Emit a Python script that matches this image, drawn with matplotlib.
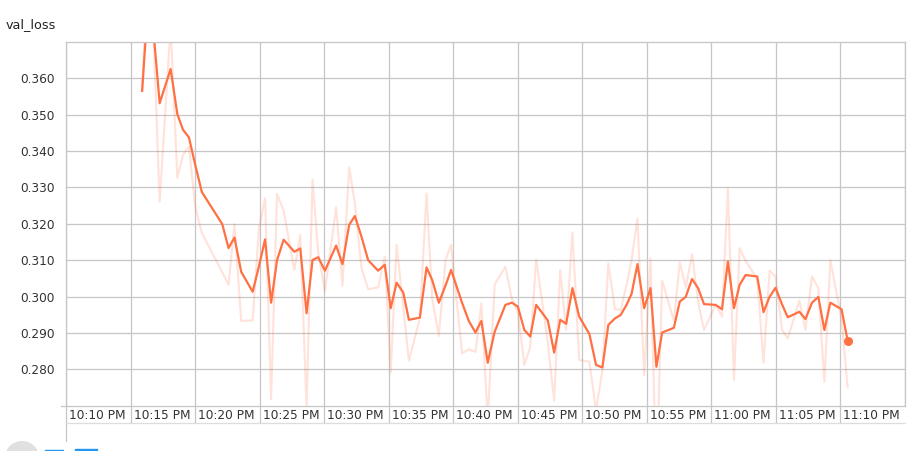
import matplotlib
matplotlib.use("Agg")
import matplotlib.pyplot as plt
from matplotlib.patches import Ellipse, Rectangle
from matplotlib.transforms import blended_transform_factory

title = "val_loss"

# minutes after 10:10 PM
minutes = [5.90, 6.46, 7.26, 8.11, 8.63, 9.07, 9.53, 10.02, 10.53, 12.11,
           12.60, 13.06, 13.58, 14.47, 14.95, 15.43, 15.90, 16.36, 16.87, 17.70,
           18.16, 18.65, 19.11, 19.55, 20.07, 20.94, 21.43, 21.95, 22.39, 22.90,
           23.42, 24.19, 24.71, 25.17, 25.63, 26.14, 26.58, 27.43, 27.95, 28.39,
           28.90, 29.42, 29.85, 30.70, 31.22, 31.74, 32.20, 32.69, 33.23, 34.06,
           34.57, 35.03, 35.53, 35.99, 36.45, 37.35, 37.84, 38.31, 38.77, 39.26,
           39.78, 40.57, 41.09, 41.58, 42.04, 42.56, 42.99, 43.45, 43.84, 44.30,
           44.82, 45.31, 45.77, 46.21, 47.12, 47.58, 48.04, 48.53, 49.00, 49.46,
           50.36, 50.85, 51.31, 51.78, 52.22, 52.68, 53.58, 54.07, 54.54, 55.00,
           55.51, 55.95, 56.85, 57.32, 57.83, 58.32, 58.79, 59.25, 60.12, 60.59]

raw_loss = [0.3565, 0.4030, 0.3260, 0.3745, 0.3326, 0.3389, 0.3412, 0.3247, 0.3174, 0.3067,
            0.3032, 0.3199, 0.2933, 0.2934, 0.3185, 0.3270, 0.2718, 0.3282, 0.3236, 0.3073,
            0.3169, 0.2695, 0.3320, 0.3120, 0.3015, 0.3245, 0.3030, 0.3355, 0.3257, 0.3080,
            0.3020, 0.3025, 0.3110, 0.2791, 0.3142, 0.2971, 0.2824, 0.2940, 0.3283, 0.2993,
            0.2892, 0.3100, 0.3142, 0.2844, 0.2855, 0.2848, 0.2981, 0.2660, 0.3033, 0.3082,
            0.2992, 0.2955, 0.2812, 0.2862, 0.3102, 0.2873, 0.2714, 0.3073, 0.2908, 0.3176,
            0.2826, 0.2821, 0.2688, 0.2797, 0.3091, 0.2965, 0.2963, 0.3030, 0.3100, 0.3215,
            0.2784, 0.3105, 0.2483, 0.3044, 0.2933, 0.3093, 0.3025, 0.3116, 0.2986, 0.2908,
            0.2977, 0.2945, 0.3296, 0.2771, 0.3133, 0.3098, 0.3049, 0.2818, 0.3071, 0.3055,
            0.2908, 0.2885, 0.2989, 0.2908, 0.3055, 0.3023, 0.2766, 0.3100, 0.2937, 0.2750]

smoothed_loss = [0.3565, 0.3860, 0.3531, 0.3625, 0.3501, 0.3458, 0.3437, 0.3361, 0.3287, 0.3199,
                 0.3133, 0.3162, 0.3068, 0.3013, 0.3082, 0.3157, 0.2983, 0.3100, 0.3156, 0.3123,
                 0.3132, 0.2954, 0.3100, 0.3108, 0.3071, 0.3140, 0.3089, 0.3197, 0.3221, 0.3165,
                 0.3100, 0.3071, 0.3087, 0.2968, 0.3038, 0.3011, 0.2936, 0.2942, 0.3080, 0.3045,
                 0.2983, 0.3030, 0.3073, 0.2983, 0.2933, 0.2901, 0.2933, 0.2818, 0.2903, 0.2977,
                 0.2983, 0.2972, 0.2908, 0.2890, 0.2977, 0.2934, 0.2846, 0.2936, 0.2925, 0.3023,
                 0.2945, 0.2897, 0.2812, 0.2805, 0.2922, 0.2940, 0.2949, 0.2977, 0.3007, 0.3089,
                 0.2968, 0.3023, 0.2807, 0.2901, 0.2914, 0.2986, 0.2999, 0.3048, 0.3023, 0.2979,
                 0.2977, 0.2965, 0.3096, 0.2968, 0.3032, 0.3059, 0.3055, 0.2957, 0.2999, 0.3024,
                 0.2978, 0.2943, 0.2958, 0.2938, 0.2983, 0.2999, 0.2908, 0.2983, 0.2965, 0.2879]

y_ticks = [0.28, 0.29, 0.30, 0.31, 0.32, 0.33, 0.34, 0.35, 0.36]
y_tick_labels = ["0.280", "0.290", "0.300", "0.310", "0.320", "0.330", "0.340", "0.350", "0.360"]

x_tick_minutes = [0, 5, 10, 15, 20, 25, 30, 35, 40, 45, 50, 55, 60]
x_tick_labels = ["10:10 PM", "10:15 PM", "10:20 PM", "10:25 PM", "10:30 PM", "10:35 PM",
                 "10:40 PM", "10:45 PM", "10:50 PM", "10:55 PM", "11:00 PM", "11:05 PM",
                 "11:10 PM"]

W, H = 916, 451
LINE = "#ff7043"
GRID = "#c6c6c6"
TXT = "#333333"
plt.rcParams["font.family"] = ["DejaVu Sans"]

fig = plt.figure(figsize=(W / 100, H / 100), dpi=100)
left, right, top, bottom = 65.5, 904.5, 41.7, 405.7
ax = fig.add_axes([left / W, (H - bottom) / H, (right - left) / W, (bottom - top) / H])

ax.plot(minutes, raw_loss, color=LINE, alpha=0.2, lw=1.5)
ax.plot(minutes, smoothed_loss, color=LINE, lw=1.6)
ax.plot(minutes[-1:], smoothed_loss[-1:], "o", color=LINE, ms=5.5)

ax.set_xlim(-0.04, 64.80)
ax.set_ylim(0.27, 0.37)

ax.set_yticks(y_ticks)
ax.set_yticklabels(y_tick_labels, fontsize=8.7, color=TXT)
ax.set_xticks(x_tick_minutes + [65])
ax.set_xticklabels([])
ax.tick_params(axis="both", length=0)
ax.tick_params(axis="y", pad=7.5)
ax.grid(True, color=GRID, lw=0.9)
for s in ax.spines.values():
    s.set_color(GRID)
    s.set_linewidth(0.9)

blend = blended_transform_factory(ax.transData, ax.transAxes)
box_bottom = -(423 - bottom) / (bottom - top)
for m, lab in zip(x_tick_minutes, x_tick_labels):
    ax.text(m + 0.24, -(415.5 - bottom) / (bottom - top), lab, transform=blend,
            ha="left", va="center", fontsize=8.7, color=TXT, clip_on=False)
    y_end = box_bottom if m != 0 else -(441 - bottom) / (bottom - top)
    ax.plot([m, m], [0, y_end], transform=blend, color=GRID, lw=0.9, clip_on=False)
ax.plot([0, 1], [box_bottom, box_bottom], transform=ax.transAxes, color="#dddddd",
        lw=0.9, clip_on=False)
ax.plot([-4.5 / (right - left), 0], [0, 0], transform=ax.transAxes, color=GRID,
        lw=0.9, clip_on=False)

fig.text(6 / W, (H - 27.7) / H, title, fontsize=9.2, color="#212121", va="baseline")

# partially visible controls at the bottom edge
fig.patches.append(Ellipse((22 / W, -7.4 / H), 33.4 / W, 33.4 / H,
                           transform=fig.transFigure, color="#e0e0e0"))
fig.patches.append(Rectangle((45 / W, 0), 17.7 / W, 1.5 / H,
                             transform=fig.transFigure, color="#2196f3"))
fig.patches.append(Rectangle((75 / W, 0), 21.7 / W, 1.8 / H,
                             transform=fig.transFigure, color="#2196f3"))

fig.savefig("out.png", dpi=100)
